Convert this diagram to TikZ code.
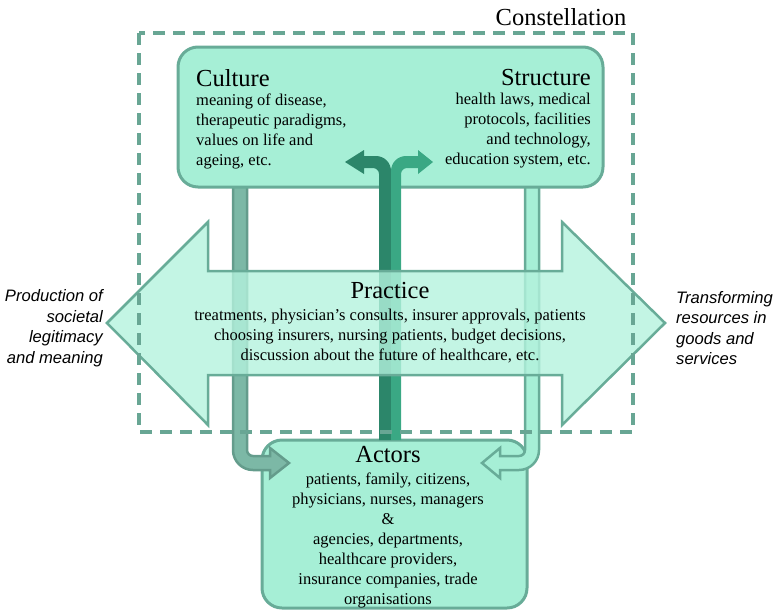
\documentclass[tikz,border=0pt]{standalone}
\usepackage{fontspec}
\setmainfont{Liberation Serif}
\setsansfont{Liberation Sans}
\usepackage{tikz}

\definecolor{mintfill}{RGB}{166,239,214}
\definecolor{mintline}{RGB}{104,172,152}
\definecolor{practicefill}{RGB}{180,242,221}
\definecolor{barfill}{RGB}{124,184,166}
\definecolor{barline}{RGB}{100,156,140}
\definecolor{trunkdark}{RGB}{44,134,106}
\definecolor{trunklight}{RGB}{58,168,132}
\definecolor{dashcol}{RGB}{104,166,148}

\newcommand{\headsize}{\fontsize{24.5}{28}\selectfont}
\newcommand{\bodysize}{\fontsize{16.5}{20}\selectfont}

\begin{document}
\begin{tikzpicture}[x=1pt, y=-1pt,
        bigbox/.style={draw=mintline, fill=mintfill, line width=3pt, rounded corners=20pt, inner sep=0pt},
        heading/.style={inner sep=0pt, font=\headsize},
        body/.style={inner sep=0pt, font=\bodysize},
        side/.style={inner sep=0pt, font=\sffamily\itshape\fontsize{16.6}{20.5}\selectfont}]
            \useasboundingbox (0,0) rectangle (773,614);

            % Draw the actors box
            \node[bigbox, minimum width=265pt, minimum height=168pt] (actorbox) at (394.5,524) {};

            % Draw the two side bars down to the actors
            \draw[barline, fill=barfill, line width=2.5pt] (233,180) -- (233,450)
                arc[start angle=180, end angle=90, radius=20] -- (270,470) -- (270,478) -- (289,463)
                -- (270,448) -- (270,456) -- (253,456) arc[start angle=90, end angle=180, radius=6]
                -- (247,180) -- cycle;
            \draw[mintline, fill=mintfill, line width=2.5pt] (539,180) -- (539,450)
                arc[start angle=0, end angle=90, radius=20] -- (500,470) -- (500,478) -- (482,463)
                -- (500,448) -- (500,456) -- (519,456) arc[start angle=90, end angle=0, radius=6]
                -- (525,180) -- cycle;

            % Draw the culture and structure box
            \node[bigbox, minimum width=425pt, minimum height=140pt] (topbox) at (390.5,117) {};

            % Draw the split trunk from the actors
            \fill[trunkdark] (379,440) -- (379,174) arc[start angle=0, end angle=-90, radius=6]
                -- (364,168) -- (364,174) -- (345,162) -- (364,150) -- (364,156) -- (376,156)
                arc[start angle=-90, end angle=0, radius=15] -- (391,440) -- cycle;
            \fill[trunklight] (391,440) -- (391,171) arc[start angle=180, end angle=270, radius=15]
                -- (418,156) -- (418,150) -- (433,162) -- (418,174) -- (418,168) -- (407,168)
                arc[start angle=270, end angle=180, radius=6] -- (401,440) -- cycle;

            % Draw the practice arrow
            \draw[mintline, fill=practicefill, fill opacity=0.8, line width=2.5pt]
                (107,323) -- (208,222) -- (208,271) -- (562,271) -- (562,222) -- (665,323)
                -- (562,425) -- (562,375) -- (208,375) -- (208,425) -- cycle;

            % Draw the constellation frame
            \draw[dashcol, line width=3.2pt, dash pattern=on 12pt off 8pt] (139,33) rectangle (633,432);
            \node[heading] (constellation) at (561,17) {Constellation};

            % Texts
            \node[heading, anchor=west] (culture) at (196,78) {Culture};
            \node[body, anchor=west, align=left] (culturetext) at (196,131)
                {meaning of disease,\\therapeutic paradigms,\\values on life and\\ageing, etc.};

            \node[heading, anchor=east] (structure) at (591,78) {Structure};
            \node[body, anchor=east, align=right] (structuretext) at (591,131)
                {health laws, medical\\protocols, facilities\\and technology,\\education system, etc.};

            \node[heading] (practice) at (390,290) {Practice};
            \node[body, align=center] (practicetext) at (390,336)
                {treatments, physician’s consults, insurer approvals, patients\\choosing insurers, nursing patients, budget decisions,\\discussion about the future of healthcare, etc.};

            \node[heading] (actors) at (388,455) {Actors};
            \node[body, align=center] (actorstext) at (388,540)
                {patients, family, citizens,\\physicians, nurses, managers\\\&\\agencies, departments,\\healthcare providers,\\insurance companies, trade\\organisations};

            \node[side, anchor=east, align=right] (legitimacy) at (103,328)
                {Production of\\societal\\legitimacy\\and meaning};
            \node[side, anchor=west, align=left] (resources) at (676,328)
                {Transforming\\resources in\\goods and\\services};

        \end{tikzpicture}
\end{document}
